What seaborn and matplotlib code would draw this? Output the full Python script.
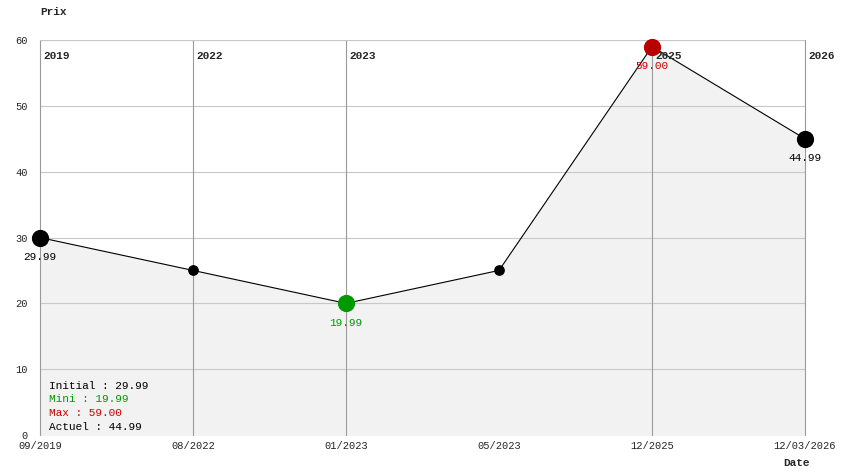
import matplotlib
matplotlib.use("Agg")
import matplotlib.pyplot as plt
import seaborn as sns
import pandas as pd

dates = ["09/2019", "08/2022", "01/2023", "05/2023", "12/2025", "12/03/2026"]
prices = [29.99, 25.00, 19.99, 25.00, 59.00, 44.99]
years = ["2019", "2022", "2023", "2023", "2025", "2026"]

df = pd.DataFrame({"pos": range(len(dates)), "prix": prices})

sns.set_style("white")
plt.rcParams["font.family"] = ["Liberation Mono", "DejaVu Sans Mono"]

fig = plt.figure(figsize=(8.44, 4.74), dpi=100)
W, H = 844, 474
ax = fig.add_axes([40 / W, (H - 435) / H, 765 / W, 395 / H])

ax.fill_between(df["pos"], df["prix"], 0, color="#f2f2f2", zorder=0)
for y in range(10, 61, 10):
    ax.axhline(y, color="#c8c8c8", lw=0.8, zorder=1)

# year separators
prev = None
for i, yr in enumerate(years):
    if yr != prev:
        ax.axvline(i, color="#999999", lw=0.8, zorder=1, clip_on=False)
        ax.text(i + 0.02, 57.5, yr, fontsize=8, fontweight="bold", va="center", ha="left")
    prev = yr

sns.lineplot(data=df, x="pos", y="prix", color="black", lw=0.8, ax=ax, zorder=2)

imin = prices.index(min(prices))
imax = prices.index(max(prices))
for i, p in enumerate(prices):
    if i == imin:
        c, s = "#009900", 130
    elif i == imax:
        c, s = "#b80000", 130
    elif i in (0, len(prices) - 1):
        c, s = "black", 130
    else:
        c, s = "black", 45
    ax.scatter(i, p, s=s, color=c, zorder=3, clip_on=False)
    if s > 100:
        tc = "#cc0000" if i == imax else c
        ax.text(i, p - 2.2, f"{p:.2f}", color=tc, fontsize=8, ha="center", va="top")

ax.set_xlim(0, len(dates) - 1)
ax.set_ylim(0, 60)
ax.set_xticks(range(len(dates)))
ax.set_xticklabels(dates, fontsize=7.5)
ax.set_yticks(range(0, 61, 10))
ax.tick_params(axis="y", labelsize=7.5, length=0, pad=9)
ax.tick_params(axis="x", length=0, pad=4)
ax.set_xlabel("")
ax.set_ylabel("")
for side in ["top", "right", "left", "bottom"]:
    ax.spines[side].set_visible(False)
ax.axhline(60, color="#c8c8c8", lw=0.8)

fig.text(40 / W, 1 - 12 / H, "Prix", fontsize=8, fontweight="bold", va="center")
fig.text(783 / W, 1 - 463 / H, "Date", fontsize=8, fontweight="bold", va="center")

legend = [("Initial : 29.99", "black"), ("Mini : 19.99", "#009900"),
          ("Max : 59.00", "#cc0000"), ("Actuel : 44.99", "black")]
for k, (t, c) in enumerate(legend):
    ax.text(0.06, 7.5 - k * 2.1, t, color=c, fontsize=8, va="center")

fig.savefig("out.png", dpi=100)
